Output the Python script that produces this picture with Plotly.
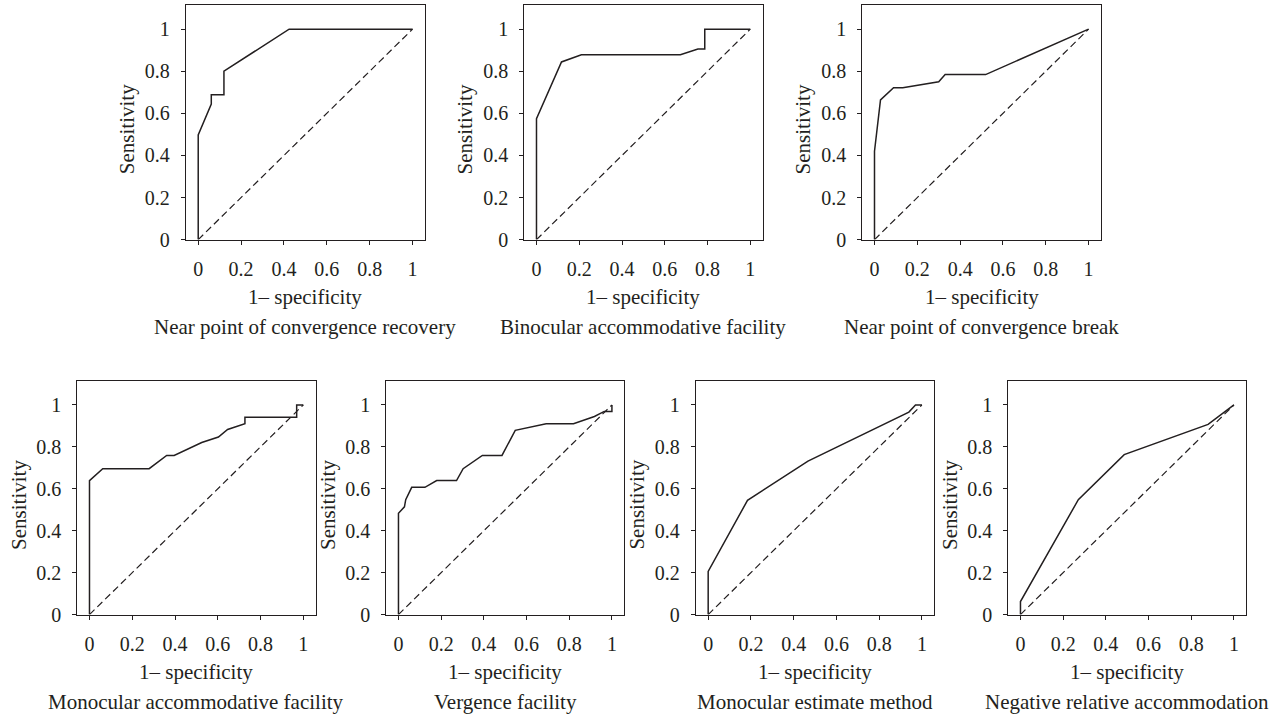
import plotly.graph_objects as go

W, H = 1280, 727

# ---------------- data ----------------
captions = [
    "Near point of convergence recovery",
    "Binocular accommodative facility",
    "Near point of convergence break",
    "Monocular accommodative facility",
    "Vergence facility",
    "Monocular estimate method",
    "Negative relative accommodation",
]
x_title = "1\u2013 specificity"
y_title = "Sensitivity"
tick_vals = [0, 0.2, 0.4, 0.6, 0.8, 1]
tick_text = ["0", "0.2", "0.4", "0.6", "0.8", "1"]
ref_x = [0, 1]
ref_y = [0, 1]

npc_recovery_x = [0, 0, 0.061, 0.061, 0.12, 0.12, 0.424, 1]
npc_recovery_y = [0, 0.497, 0.644, 0.688, 0.688, 0.80, 1, 1]

baf_x = [0, 0, 0.117, 0.21, 0.673, 0.755, 0.787, 0.787, 1]
baf_y = [0, 0.575, 0.844, 0.878, 0.878, 0.906, 0.906, 1, 1]

npc_break_x = [0, 0, 0.028, 0.089, 0.132, 0.30, 0.33, 0.519, 1]
npc_break_y = [0, 0.42, 0.664, 0.722, 0.722, 0.75, 0.784, 0.784, 1]

maf_x = [0, 0, 0.062, 0.279, 0.361, 0.396, 0.525, 0.603, 0.646, 0.727, 0.727, 0.969, 0.969, 1]
maf_y = [0, 0.639, 0.696, 0.696, 0.759, 0.759, 0.821, 0.847, 0.883, 0.910, 0.941, 0.941, 1, 1]

vf_x = [0, 0, 0.028, 0.034, 0.062, 0.124, 0.179, 0.272, 0.303, 0.393, 0.485, 0.547, 0.692, 0.820, 0.918, 0.964, 1, 1]
vf_y = [0, 0.483, 0.514, 0.548, 0.607, 0.607, 0.639, 0.639, 0.696, 0.759, 0.759, 0.879, 0.910, 0.910, 0.945, 0.969, 0.969, 1]

mem_x = [0, 0, 0.184, 0.467, 0.939, 0.970, 1]
mem_y = [0, 0.206, 0.545, 0.732, 0.966, 1, 1]

nra_x = [0, 0, 0.271, 0.486, 0.879, 1]
nra_y = [0, 0.062, 0.548, 0.763, 0.907, 1]

curves_x = [npc_recovery_x, baf_x, npc_break_x, maf_x, vf_x, mem_x, nra_x]
curves_y = [npc_recovery_y, baf_y, npc_break_y, maf_y, vf_y, mem_y, nra_y]

# ---------------- layout (pixel boxes: left, right, top, bottom) ----------------
boxes = [
    (186.0, 425.0, 5.0, 243.3),
    (524.3, 762.7, 5.0, 243.3),
    (862.3, 1101.0, 5.0, 243.3),
    (77.3, 315.7, 386.7, 624.0),
    (386.3, 624.3, 386.7, 624.0),
    (696.0, 934.3, 386.7, 624.0),
    (1008.3, 1246.3, 386.7, 624.0),
]
XR = [-0.057, 1.058]
YR = [0, 1.115]

INK = "#231f20"
FONT = "Liberation Serif"

fig = go.Figure()
layout = dict(
    width=W, height=H, margin=dict(l=0, r=0, t=0, b=0),
    paper_bgcolor="white", plot_bgcolor="white", showlegend=False,
    font=dict(family=FONT, size=20, color=INK),
)
annotations = []

for i, (l, r, t, b) in enumerate(boxes):
    n = "" if i == 0 else str(i + 1)
    xa, ya = "x" + n, "y" + n
    fig.add_trace(go.Scatter(x=ref_x, y=ref_y, mode="lines", xaxis=xa, yaxis=ya,
                             line=dict(color=INK, width=1.2, dash="7px,4px"),
                             hoverinfo="skip"))
    fig.add_trace(go.Scatter(x=curves_x[i], y=curves_y[i], mode="lines", xaxis=xa, yaxis=ya,
                             line=dict(color=INK, width=1.5)))
    common = dict(showgrid=False, zeroline=False, showline=True, mirror=True,
                  linecolor=INK, linewidth=1.3, ticks="outside", ticklen=4,
                  tickwidth=1.2, tickcolor=INK, tickvals=tick_vals, ticktext=tick_text,
                  tickfont=dict(family=FONT, size=20, color=INK), fixedrange=True)
    layout["xaxis" + n] = dict(common, domain=[l / W, r / W], range=XR, anchor=ya,
                               ticklabelstandoff=7)
    layout["yaxis" + n] = dict(common, domain=[1 - b / H, 1 - t / H], range=YR, anchor=xa,
                               ticklabelstandoff=7)
    mid_y_px = (t + b) / 2 + 7
    annotations.append(dict(text=y_title, xref="paper", yref="paper",
                            x=(l - 59) / W, y=1 - mid_y_px / H, textangle=-90,
                            showarrow=False, xanchor="center", yanchor="middle",
                            font=dict(family=FONT, size=21, color=INK)))
    annotations.append(dict(text=x_title, xref=xa, yref="paper", x=0.5,
                            y=1 - (b + 58) / H, showarrow=False,
                            xanchor="center", yanchor="middle",
                            font=dict(family=FONT, size=21, color=INK)))
    annotations.append(dict(text=captions[i], xref=xa, yref="paper", x=0.5,
                            y=1 - (b + 89) / H, showarrow=False,
                            xanchor="center", yanchor="middle",
                            font=dict(family=FONT, size=21, color=INK)))

layout["annotations"] = annotations
fig.update_layout(**layout)

fig.write_html("out.html", config={"displayModeBar": False},
               post_script="document.body.style.margin='0';document.body.style.overflow='hidden';")
